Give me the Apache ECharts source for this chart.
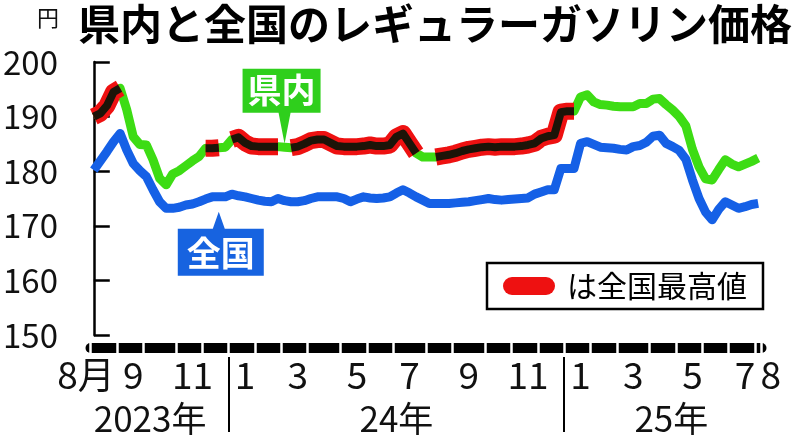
<!DOCTYPE html>
<html>
<head>
<meta charset="utf-8">
<script src="https://cdn.jsdelivr.net/npm/echarts@6/dist/echarts.min.js"></script>
<style>
html,body{margin:0;padding:0;background:#fff;}
#main{width:800px;height:446px;}
</style>
</head>
<body>
<div id="main"></div>
<script>
// 週ごとの調査日
var weeks = [
  '2023/8/7','2023/8/14','2023/8/21','2023/8/28',
  '2023/9/4','2023/9/11','2023/9/19','2023/9/25',
  '2023/10/2','2023/10/10','2023/10/16','2023/10/23','2023/10/30',
  '2023/11/6','2023/11/13','2023/11/20','2023/11/27',
  '2023/12/4','2023/12/11','2023/12/18','2023/12/25',
  '2024/1/9','2024/1/15','2024/1/22','2024/1/29',
  '2024/2/5','2024/2/13','2024/2/19','2024/2/26',
  '2024/3/4','2024/3/11','2024/3/18','2024/3/25',
  '2024/4/1','2024/4/8','2024/4/15','2024/4/22','2024/4/30',
  '2024/5/7','2024/5/13','2024/5/20','2024/5/27',
  '2024/6/3','2024/6/10','2024/6/17','2024/6/24',
  '2024/7/1','2024/7/8','2024/7/16','2024/7/22','2024/7/29',
  '2024/8/5','2024/8/13','2024/8/19','2024/8/26',
  '2024/9/2','2024/9/9','2024/9/17','2024/9/24','2024/9/30',
  '2024/10/7','2024/10/15','2024/10/21','2024/10/28',
  '2024/11/5','2024/11/11','2024/11/18','2024/11/25',
  '2024/12/2','2024/12/9','2024/12/16','2024/12/23',
  '2025/1/6','2025/1/14','2025/1/20','2025/1/27',
  '2025/2/3','2025/2/10','2025/2/17','2025/2/25',
  '2025/3/3','2025/3/10','2025/3/17','2025/3/24','2025/3/31',
  '2025/4/7','2025/4/14','2025/4/21','2025/4/28',
  '2025/5/7','2025/5/12','2025/5/19','2025/5/26',
  '2025/6/2','2025/6/9','2025/6/16','2025/6/23',
  '2025/7/7','2025/7/14','2025/7/22','2025/7/28',
  '2025/8/4'
];
// 県内
var kennai = [
  190.0,190.6,192.0,194.5,195.2,191.3,186.3,184.9,184.8,182.1,
  178.7,177.5,179.5,180.1,181.0,181.9,182.7,184.2,184.2,184.3,
  184.4,185.8,186.2,185.2,184.6,184.5,184.5,184.5,184.5,184.4,
  184.3,184.5,185.0,185.6,185.8,185.8,185.2,184.6,184.5,184.5,
  184.5,184.6,184.8,184.6,184.6,184.8,186.3,186.9,185.1,183.3,
  182.6,182.6,182.6,182.8,183.0,183.3,183.7,184.0,184.2,184.4,
  184.5,184.4,184.5,184.5,184.5,184.6,184.8,185.1,186.0,186.4,
  186.6,190.8,191.0,191.0,193.6,194.0,192.7,192.2,192.1,191.9,
  191.8,191.8,191.8,192.4,192.4,193.2,193.3,192.2,191.2,190.0,
  188.3,184.0,180.8,178.6,178.4,180.3,182.1,181.3,180.8,181.3,
  181.8,182.4
];
// 全国
var zenkoku = [
  180.2,181.9,183.6,185.4,186.9,183.9,181.4,180.1,179.0,176.6,
  174.4,173.2,173.2,173.4,173.8,174.0,174.4,174.9,175.3,175.3,
  175.3,175.8,175.5,175.3,175.0,174.7,174.5,174.4,175.0,174.6,
  174.4,174.4,174.6,175.0,175.3,175.3,175.3,175.3,175.0,174.4,
  174.9,175.3,175.1,175.0,175.1,175.3,176.0,176.6,176.0,175.3,
  174.7,174.1,174.1,174.1,174.1,174.2,174.3,174.4,174.6,174.8,
  175.0,174.8,174.7,174.8,174.9,175.0,175.1,175.8,176.2,176.6,
  176.6,180.5,180.5,180.5,185.1,185.4,184.9,184.4,184.3,184.2,
  184.0,183.9,184.5,184.7,185.3,186.4,186.6,185.1,184.5,183.8,
  182.2,178.4,175.0,172.5,171.1,173.0,174.4,173.8,173.2,173.5,
  173.9,174.1
];
// 県内が全国最高値だった週(開始,終了)
var topRuns = [[0,4],[17,19],[21,28],[30,49],[52,73]];
var yTicks = [150,160,170,180,190,200];

var FONT = "'Noto Sans CJK JP', sans-serif";

var topData = kennai.map(function(v, i){
	for (var k = 0; k < topRuns.length; k++) {
		if (i >= topRuns[k][0] && i <= topRuns[k][1]) return v;
	}
	return null;
});

//月・年の区切り
function ym(i){ var d = weeks[i].split('/'); return {y:+d[0], m:+d[1]}; }
var monthStart = [], months = [];
weeks.forEach(function(w, i){
	var c = ym(i);
	if (i === 0 || ym(i-1).m !== c.m) { monthStart[i] = true; months.push({start:i, n:0, m:c.m, y:c.y}); }
	months[months.length-1].n++;
});
var labelIdx = {};
months.forEach(function(mo, k){
	if (mo.m % 2 === 1 || k === 0 || k === months.length-1) {
		labelIdx[mo.start + Math.floor(mo.n/2)] = k;
	}
});
var years = [];
weeks.forEach(function(w, i){
	var y = ym(i).y;
	if (!years.length || years[years.length-1].y !== y) years.push({y:y, start:i, end:i});
	years[years.length-1].end = i;
});
var yearBounds = years.slice(1).map(function(yr){ return yr.start - 0.5; });
var yearCenters = years.map(function(yr){ return (yr.start + yr.end) / 2; });

var chart = echarts.init(document.getElementById('main'));
chart.setOption({
	animation: false,
	backgroundColor: '#fff',
	textStyle: {fontFamily: FONT},
	title: [
		{text: '県内と全国のレギュラーガソリン価格', left: 73, top: -2,
		 textStyle: {fontFamily: FONT, fontSize: 42, fontWeight: 'bold', color: '#000'}},
		{text: '円', left: 32, top: 2,
		 textStyle: {fontFamily: FONT, fontSize: 22, fontWeight: 'normal', color: '#111'}}
	],
	grid: {left: 90.5, right: 38.5, top: 62, bottom: 111, containLabel: false},
	legend: {
		data: [{name: 'は全国最高値', icon: 'path://M9,0 L43,0 A9,9 0 0 1 43,18 L9,18 A9,9 0 0 1 9,0 Z'}],
		left: 487, top: 263,
		itemWidth: 52, itemHeight: 18,
		padding: [8, 16, 8, 16],
		borderColor: '#000', borderWidth: 2.5, backgroundColor: '#fff',
		selectedMode: false,
		itemStyle: {color: '#ee1111'},
		textStyle: {fontFamily: FONT, fontSize: 30, color: '#000', padding: [0, 0, 0, 7]}
	},
	xAxis: [
		{
			type: 'category', data: weeks, boundaryGap: true, position: 'bottom', offset: 13,
			axisLine: {lineStyle: {color: '#000', width: 10}},
			axisTick: {show: true, inside: true, length: 6,
				lineStyle: {color: '#fff', width: 2.5},
				interval: function(i){ return !!monthStart[i]; }},
			axisLabel: {
				interval: function(i){ return labelIdx[i] !== undefined; },
				margin: 8, color: '#111', fontFamily: FONT, fontSize: 37,
				formatter: function(v, i){
					var m = +v.split('/')[1];
					var k = labelIdx[i];
					if (k === 0) return '{f|' + m + '月}';
					if (k === months.length-1) return '{l|' + m + '}';
					return '' + m;
				},
				rich: {
					f: {fontFamily: FONT, fontSize: 37, color: '#111', padding: [0, 42, 0, 0]},
					l: {fontFamily: FONT, fontSize: 37, color: '#111', padding: [0, 0, 0, 25]}
				}
			}
		},
		{
			type: 'category', data: weeks, boundaryGap: true, position: 'bottom', offset: 13,
			axisLine: {show: false},
			axisTick: {show: true, inside: false, length: 6,
				lineStyle: {color: '#fff', width: 2.5},
				interval: function(i){ return !!monthStart[i]; }},
			axisLabel: {show: false}
		},
		{
			// 年の区切り線と年ラベル(週番号の数値軸)
			type: 'value', position: 'bottom', offset: 22,
			min: -0.5, max: weeks.length - 0.5,
			axisLine: {show: false}, splitLine: {show: false},
			axisTick: {show: true, inside: false, length: 75,
				lineStyle: {color: '#000', width: 2},
				customValues: yearBounds},
			axisLabel: {
				customValues: yearCenters,
				margin: 44, color: '#111', fontFamily: FONT, fontSize: 35,
				formatter: function(v){
					var k = yearCenters.indexOf(v);
					if (k < 0) return '';
					var y = years[k].y;
					if (k === 0) return '{f|' + y + '年}';
					if (k === years.length-1) return '{l|' + (y % 100) + '年}';
					return (y % 100) + '年';
				},
				rich: {
					f: {fontFamily: FONT, fontSize: 35, color: '#111', padding: [0, 19, 0, 0]},
					l: {fontFamily: FONT, fontSize: 35, color: '#111', padding: [0, 0, 0, 17]}
				}
			}
		}
	],
	yAxis: {
		type: 'value', min: yTicks[0], max: yTicks[yTicks.length-1], interval: 10,
		offset: 18.5,
		axisLine: {show: true, lineStyle: {color: '#000', width: 2.5}},
		axisTick: {show: true, inside: true, length: 16, lineStyle: {color: '#000', width: 2.5}},
		axisLabel: {margin: 14, color: '#111', fontFamily: FONT, fontSize: 33},
		splitLine: {show: false}
	},
	series: [
		{
			name: '県内', type: 'line', data: kennai, showSymbol: false, z: 2,
			lineStyle: {color: '#3ddc14', width: 9, join: 'round'},
			itemStyle: {color: '#3ddc14'},
			markPoint: {
				silent: true,
				data: [{coord: [weeks[29], kennai[29]]}],
				symbol: 'path://M0,0 L78,0 L78,44 L48,44 L42,75 L36,44 L0,44 Z',
				symbolSize: [78, 75], symbolOffset: [-3, -41],
				itemStyle: {color: '#2fcf1c'},
				label: {show: true, position: 'inside', offset: [0, -16], formatter: '県内',
					color: '#fff', fontFamily: FONT, fontSize: 34, fontWeight: 'bold'}
			}
		},
		{
			name: '全国', type: 'line', data: zenkoku, showSymbol: false, z: 2,
			lineStyle: {color: '#1560e6', width: 9, join: 'round'},
			itemStyle: {color: '#1560e6'},
			markPoint: {
				silent: true,
				data: [{coord: [weeks[19], zenkoku[19]]}],
				symbol: 'path://M0,17 L35,17 L41,0 L47,17 L86,17 L86,64 L0,64 Z',
				symbolSize: [86, 64], symbolOffset: [2, 47],
				itemStyle: {color: '#1763e0'},
				label: {show: true, position: 'inside', offset: [0, 9], formatter: '全国',
					color: '#fff', fontFamily: FONT, fontSize: 34, fontWeight: 'bold'}
			}
		},
		{
			name: 'は全国最高値', type: 'line', data: topData, showSymbol: false, z: 3,
			connectNulls: false,
			lineStyle: {color: '#ee1111', width: 17, cap: 'butt', join: 'round'},
			itemStyle: {color: '#ee1111'}
		},
		{
			name: '最高値芯', type: 'line', data: topData, showSymbol: false, z: 4,
			connectNulls: false,
			lineStyle: {color: '#1c1408', width: 8, cap: 'butt', join: 'round'},
			itemStyle: {color: '#1c1408'}
		}
	]
});
</script>
</body>
</html>
